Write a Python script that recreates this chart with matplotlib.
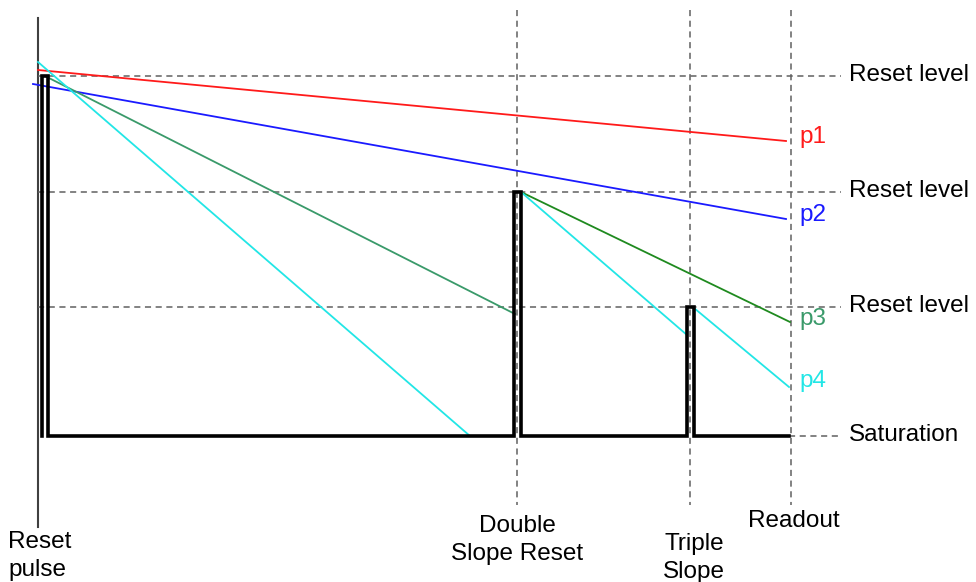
import matplotlib.pyplot as plt

plt.rcParams['font.family'] = ['Liberation Sans', 'DejaVu Sans']

# time marks (horizontal position, schematic units)
t_start = 38
t_pulse = [42, 48]
t_double = [514, 521]
t_triple = [687, 694]
t_readout = 789
t_marks = [517, 690, 791]
mark_labels = ["Double\nSlope Reset", "Triple\nSlope", "Readout"]

# signal levels (schematic units, bigger = lower on the page)
reset_levels = [76, 192, 307]
saturation = 436
level_labels = ["Reset level", "Reset level", "Reset level", "Saturation"]

# pixel responses: list of segments (t0, v0, t1, v1)
p1 = [(38, 70, 786, 141)]
p2 = [(33, 84, 786, 219)]
p3 = [(45, 76, 515, 314), (521, 192, 790, 322)]
p4 = [(38, 62, 470, 436), (521, 192, 687, 335), (694, 308, 789, 387)]
p_colors = ["#ff1a1a", "#1a1aff", "#3a9a6a", "#22e6e6"]
p3_second_color = "#1f8a1f"
p_label_y = [137, 215, 319, 381]
p_names = ["p1", "p2", "p3", "p4"]

fig = plt.figure(figsize=(9.76, 5.82), dpi=100)
ax = fig.add_axes([0, 0, 1, 1])
ax.set_xlim(0, 976)
ax.set_ylim(582, 0)
ax.axis('off')

# vertical axis at reset pulse
ax.plot([t_start, t_start], [18, 527], color='#404040', lw=1.5)

# dashed guide lines
dash = dict(color='#606060', lw=1.1, linestyle=(0, (4, 3)))
for lv in reset_levels:
    ax.plot([t_start, 841], [lv, lv], **dash)
ax.plot([t_readout, 841], [saturation, saturation], **dash)
for tm in t_marks:
    ax.plot([tm, tm], [10, 505], **dash)

# pixel response lines
for segs, col in zip([p1, p2, p3, p4], p_colors):
    for i, (t0, v0, t1, v1) in enumerate(segs):
        c = col
        if segs is p3 and i == 1:
            c = p3_second_color
        ax.plot([t0, t1], [v0, v1], color=c, lw=1.3)

# reset/saturation waveform
wx = [t_pulse[0], t_pulse[0], t_pulse[1], t_pulse[1],
      t_double[0], t_double[0], t_double[1], t_double[1],
      t_triple[0], t_triple[0], t_triple[1], t_triple[1], t_readout]
wy = [saturation, reset_levels[0], reset_levels[0], saturation,
      saturation, reset_levels[1], reset_levels[1], saturation,
      saturation, reset_levels[2], reset_levels[2], saturation, saturation]
ax.plot(wx, wy, color='black', lw=2.6, solid_joinstyle='miter')

# labels
fs = 17.5
for lv, lab in zip(reset_levels + [saturation], level_labels):
    ax.text(849, lv + 5, lab, fontsize=fs, va='baseline', ha='left')
for y, name, col in zip(p_label_y, p_names, p_colors):
    ax.text(799, y, name, fontsize=fs, va='center', ha='left', color=col)

ls = 1.35
ax.text(8, 576, "Reset\npulse", fontsize=fs, va='baseline', ha='left', linespacing=ls)
ax.text(t_marks[0], 560, mark_labels[0], fontsize=fs, va='baseline', ha='center', linespacing=ls)
ax.text(694, 578, mark_labels[1], fontsize=fs, va='baseline', ha='center', linespacing=ls)
ax.text(794, 527, mark_labels[2], fontsize=fs, va='baseline', ha='center')

fig.savefig("out.png", dpi=100)
